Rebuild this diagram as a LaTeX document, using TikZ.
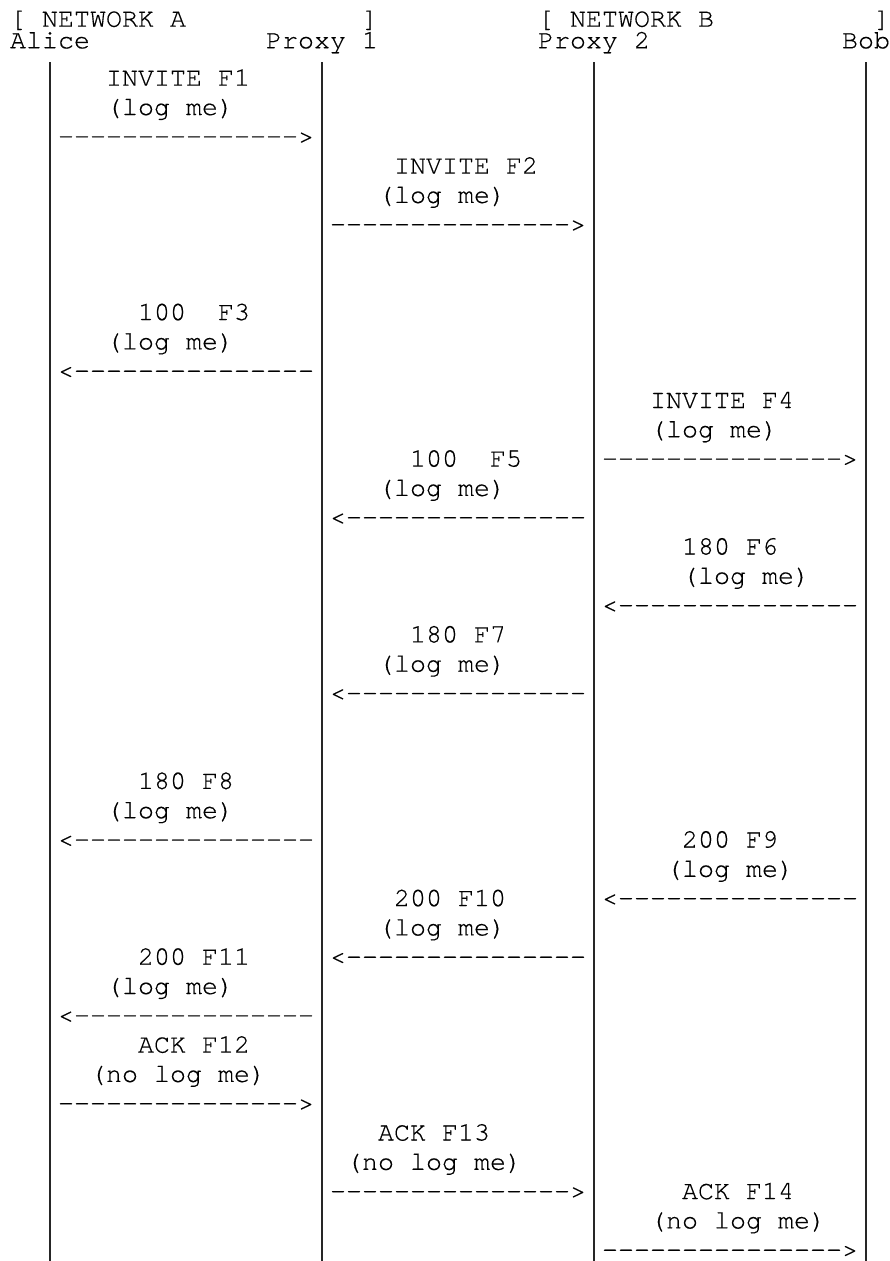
\documentclass[tikz,border=0pt]{standalone}
\usepackage{fontspec}
\newfontfamily\asciifont{TeX Gyre Cursor}[FakeBold=0.35]
\newcommand\dashrun{-{}-{}-{}-{}-{}-{}-{}-{}-{}-{}-{}-{}-{}-{}-{}}
\newcommand\rarr{\dashrun>}
\newcommand\larr{<\dashrun}
% \rowtxt{name}{column}{row}{text}
\newcommand\rowtxt[4]{\node[lbl] (#1) at ({10+16*(#2)},{85.7+29.3*((#3)-3)}) {#4};}
\newcommand\hdtxt[4]{\node[lbl] (#1) at ({10+16*(#2)},{#3}) {#4};}
\begin{document}
\begin{tikzpicture}[x=1pt,y=-1pt,
  lbl/.style={anchor=base west,inner sep=0pt,outer sep=0pt,text=black,
    font=\asciifont\fontsize{26.67}{30}\selectfont},
  life/.style={line width=1.4pt,draw=black!85}]
\fill[white] (0,0) rectangle (890,1261);
\useasboundingbox (0,0) rectangle (890,1261);
% header
\hdtxt{netA}{0}{26.7}{[ NETWORK A}
\hdtxt{netAe}{22}{26.7}{]}
\hdtxt{netB}{33}{26.7}{[ NETWORK B}
\hdtxt{netBe}{54}{26.7}{]}
\hdtxt{alice}{0}{48.3}{Alice}
\hdtxt{proxyA}{16}{48.3}{Proxy 1}
\hdtxt{proxyB}{33}{48.3}{Proxy 2}
\hdtxt{bob}{52}{48.3}{Bob}
% lifelines
\coordinate (aliceTop) at (50,62);  \coordinate (aliceBot) at (50,1261);
\coordinate (p1Top) at (322,62);    \coordinate (p1Bot) at (322,1261);
\coordinate (p2Top) at (594,62);    \coordinate (p2Bot) at (594,1261);
\coordinate (bobTop) at (866,62);   \coordinate (bobBot) at (866,1261);
\draw[life] (aliceTop) -- (aliceBot);
\draw[life] (p1Top) -- (p1Bot);
\draw[life] (p2Top) -- (p2Bot);
\draw[life] (bobTop) -- (bobBot);
% F1
\rowtxt{f1a}{6}{3}{INVITE F1}
\rowtxt{f1b}{6}{4}{(log me)}
\rowtxt{f1r}{3}{5}{\rarr}
% F2
\rowtxt{f2a}{24}{6}{INVITE F2}
\rowtxt{f2b}{23}{7}{(log me)}
\rowtxt{f2r}{20}{8}{\rarr}
% F3
\rowtxt{f3a}{8}{11}{100\ \ F3}
\rowtxt{f3b}{6}{12}{(log me)}
\rowtxt{f3r}{3}{13}{\larr}
% F4
\rowtxt{f4a}{40}{14}{INVITE F4}
\rowtxt{f4b}{40}{15}{(log me)}
\rowtxt{f4r}{37}{16}{\rarr}
% F5
\rowtxt{f5a}{25}{16}{100\ \ F5}
\rowtxt{f5b}{23}{17}{(log me)}
\rowtxt{f5r}{20}{18}{\larr}
% F6
\rowtxt{f6a}{42}{19}{180 F6}
\rowtxt{f6b}{42}{20}{(log me)}
\rowtxt{f6r}{37}{21}{\larr}
% F7
\rowtxt{f7a}{25}{22}{180 F7}
\rowtxt{f7b}{23}{23}{(log me)}
\rowtxt{f7r}{20}{24}{\larr}
% F8
\rowtxt{f8a}{8}{27}{180 F8}
\rowtxt{f8b}{6}{28}{(log me)}
\rowtxt{f8r}{3}{29}{\larr}
% F9
\rowtxt{f9a}{42}{29}{200 F9}
\rowtxt{f9b}{41}{30}{(log me)}
\rowtxt{f9r}{37}{31}{\larr}
% F10
\rowtxt{f10a}{24}{31}{200 F10}
\rowtxt{f10b}{23}{32}{(log me)}
\rowtxt{f10r}{20}{33}{\larr}
% F11
\rowtxt{f11a}{8}{33}{200 F11}
\rowtxt{f11b}{6}{34}{(log me)}
\rowtxt{f11r}{3}{35}{\larr}
% F12
\rowtxt{f12a}{8}{36}{ACK F12}
\rowtxt{f12b}{5}{37}{(no log me)}
\rowtxt{f12r}{3}{38}{\rarr}
% F13
\rowtxt{f13a}{23}{39}{ACK F13}
\rowtxt{f13b}{21}{40}{(no log me)}
\rowtxt{f13r}{20}{41}{\rarr}
% F14
\rowtxt{f14a}{42}{41}{ACK F14}
\rowtxt{f14b}{40}{42}{(no log me)}
\rowtxt{f14r}{37}{43}{\rarr}
\end{tikzpicture}
\end{document}
